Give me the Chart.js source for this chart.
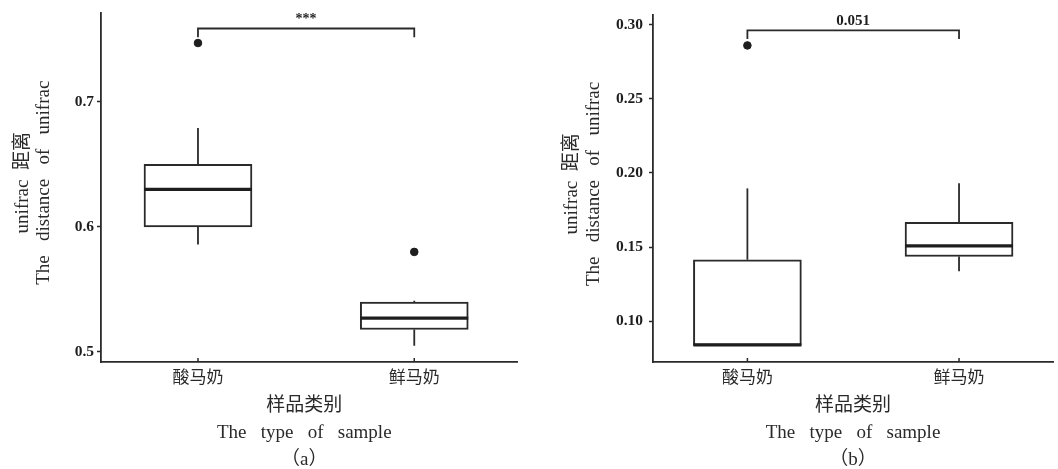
<!DOCTYPE html>
<html>
<head>
<meta charset="utf-8">
<script src="https://cdn.jsdelivr.net/npm/chart.js@4"></script>
<style>
  html, body { margin: 0; padding: 0; background: #fff; }
  #wrap { display: flex; width: 1058px; height: 469px; }
  .panel { position: relative; height: 469px; }
</style>
</head>
<body>
<div id="wrap">
  <div class="panel" style="width:530px"><canvas id="chartA"></canvas></div>
  <div class="panel" style="width:528px"><canvas id="chartB"></canvas></div>
</div>
<script>
'use strict'

const groups = ['酸马奶', '鲜马奶'];
const groupX = [1, 2];

// panel (a)
const aLow = [0.586, 0.505];
const aQ1 = [0.600, 0.518];
const aMedian = [0.630, 0.527];
const aQ3 = [0.650, 0.540];
const aHigh = [0.679, 0.541];
const aOutliers = [0.747, 0.580];
const aTicks = [0.5, 0.6, 0.7];
const aSig = '***';
const aSigY = [0.7586, 0.7516];

// panel (b)
const bLow = [0.0838, 0.1337];
const bQ1 = [0.0838, 0.1437];
const bMedian = [0.0842, 0.1509];
const bQ3 = [0.1415, 0.1667];
const bHigh = [0.1896, 0.1931];
const bOutliers = [0.2859, null];
const bTicks = [0.10, 0.15, 0.20, 0.25, 0.30];
const bSig = '0.051';
const bSigY = [0.2960, 0.2902];

const SERIF = "'Liberation Serif', 'Noto Sans CJK SC', serif";
const INK = '#2a2a2a';

// whiskers, medians, significance bracket
const boxPlugin = {
    id: 'boxplot',
    beforeDatasetsDraw(chart, args, opts) {
        const {ctx, scales: {x, y}} = chart;
        ctx.save();
        ctx.strokeStyle = INK;
        ctx.lineWidth = 1.8;
        groupX.forEach((gx, i) => {
            const px = x.getPixelForValue(gx);
            ctx.beginPath();
            ctx.moveTo(px, y.getPixelForValue(opts.q3[i]));
            ctx.lineTo(px, y.getPixelForValue(opts.high[i]));
            ctx.moveTo(px, y.getPixelForValue(opts.q1[i]));
            ctx.lineTo(px, y.getPixelForValue(opts.low[i]));
            ctx.stroke();
        });
        ctx.restore();
    },
    afterDatasetsDraw(chart, args, opts) {
        const {ctx, scales: {x, y}} = chart;
        const bars = chart.getDatasetMeta(0).data;
        ctx.save();
        ctx.strokeStyle = '#1e1e1e';
        ctx.lineWidth = 3.2;
        bars.forEach((bar, i) => {
            const py = y.getPixelForValue(opts.median[i]);
            ctx.beginPath();
            ctx.moveTo(bar.x - bar.width / 2, py);
            ctx.lineTo(bar.x + bar.width / 2, py);
            ctx.stroke();
        });

        const x1 = x.getPixelForValue(groupX[0]);
        const x2 = x.getPixelForValue(groupX[1]);
        const top = y.getPixelForValue(opts.sigY[0]);
        const leg = y.getPixelForValue(opts.sigY[1]);
        ctx.strokeStyle = INK;
        ctx.lineWidth = 1.8;
        ctx.beginPath();
        ctx.moveTo(x1, leg);
        ctx.lineTo(x1, top);
        ctx.lineTo(x2, top);
        ctx.lineTo(x2, leg);
        ctx.stroke();
        ctx.fillStyle = '#1e1e1e';
        ctx.font = opts.sigFont;
        ctx.textAlign = 'center';
        ctx.textBaseline = 'bottom';
        ctx.fillText(opts.sig, (x1 + x2) / 2, top - 2);

        // short ticks on the x axis, pointing inward
        ctx.lineWidth = 1.5;
        groupX.forEach(gx => {
            const px = x.getPixelForValue(gx);
            ctx.beginPath();
            ctx.moveTo(px, y.bottom);
            ctx.lineTo(px, y.bottom - 4);
            ctx.stroke();
        });
        ctx.restore();
    }
};

function makeChart(id, p) {
    return new Chart(document.getElementById(id), {
        type: 'bar',
        data: {
            datasets: [{
                type: 'bar',
                data: groupX.map((gx, i) => ({x: gx, y: [p.q1[i], p.q3[i]]})),
                backgroundColor: '#fff',
                borderColor: INK,
                borderWidth: 2,
                borderSkipped: false,
                barThickness: 108
            }, {
                type: 'scatter',
                data: groupX.map((gx, i) => ({x: gx, y: p.outliers[i]})).filter(d => d.y !== null),
                backgroundColor: '#1e1e1e',
                borderColor: '#1e1e1e',
                pointRadius: 3.8
            }]
        },
        options: {
            responsive: true,
            maintainAspectRatio: false,
            animation: false,
            layout: { padding: { top: 13, right: p.padRight, left: 0, bottom: 0 } },
            plugins: {
                legend: { display: false },
                tooltip: { enabled: false },
                boxplot: {
                    low: p.low, q1: p.q1, median: p.median, q3: p.q3, high: p.high,
                    sig: p.sig, sigY: p.sigY, sigFont: p.sigFont
                }
            },
            scales: {
                x: {
                    type: 'linear',
                    min: p.xMin,
                    max: p.xMax,
                    offset: false,
                    afterBuildTicks: s => { s.ticks = groupX.map(v => ({value: v})); },
                    afterFit: s => { s.height = 107; },
                    grid: { drawOnChartArea: false, drawTicks: false },
                    border: { display: true, color: INK, width: 1.8 },
                    ticks: {
                        padding: 4,
                        color: INK,
                        font: { family: "'Noto Sans CJK SC', sans-serif", size: 17 },
                        callback: v => groups[groupX.indexOf(v)]
                    },
                    title: {
                        display: true,
                        text: p.xTitle,
                        color: INK,
                        font: { family: SERIF, size: 19, lineHeight: '27px' },
                        padding: { top: 0, bottom: -5 }
                    }
                },
                y: {
                    min: p.yMin,
                    max: p.yMax,
                    afterBuildTicks: s => { s.ticks = p.ticks.map(v => ({value: v})); },
                    afterFit: s => { s.width = p.yWidth; },
                    grid: { drawOnChartArea: false, tickLength: 4, color: INK, tickWidth: 1.5 },
                    border: { display: true, color: INK, width: 1.8 },
                    ticks: {
                        padding: p.tickPad,
                        color: '#1e1e1e',
                        font: { family: SERIF, size: 15.5, weight: 'bold' },
                        callback: v => v.toFixed(p.digits)
                    },
                    title: {
                        display: true,
                        text: ['  unifrac  距离', '  The   distance   of   unifrac'],
                        color: INK,
                        font: { family: SERIF, size: 19, lineHeight: '21.5px' },
                        padding: { top: p.titlePad, bottom: 0 }
                    }
                }
            }
        },
        plugins: [boxPlugin]
    });
}

makeChart('chartA', {
    low: aLow, q1: aQ1, median: aMedian, q3: aQ3, high: aHigh, outliers: aOutliers,
    ticks: aTicks, digits: 1, sig: aSig, sigY: aSigY, sigFont: 'bold 14px ' + SERIF,
    xMin: 0.5516, xMax: 2.475, yMin: 0.492, yMax: 0.771,
    yWidth: 101, padRight: 13, tickPad: 3, titlePad: 12,
    xTitle: ['样品类别  ', 'The   type   of   sample  ', '（a）  ']
});

makeChart('chartB', {
    low: bLow, q1: bQ1, median: bMedian, q3: bQ3, high: bHigh, outliers: bOutliers,
    ticks: bTicks, digits: 2, sig: bSig, sigY: bSigY, sigFont: 'bold 15px ' + SERIF,
    xMin: 0.554, xMax: 2.444, yMin: 0.0726, yMax: 0.3062,
    yWidth: 123, padRight: 0, tickPad: 6, titlePad: 31.5,
    xTitle: ['样品类别', 'The   type   of   sample', '（b）']
});
</script>
</body>
</html>
